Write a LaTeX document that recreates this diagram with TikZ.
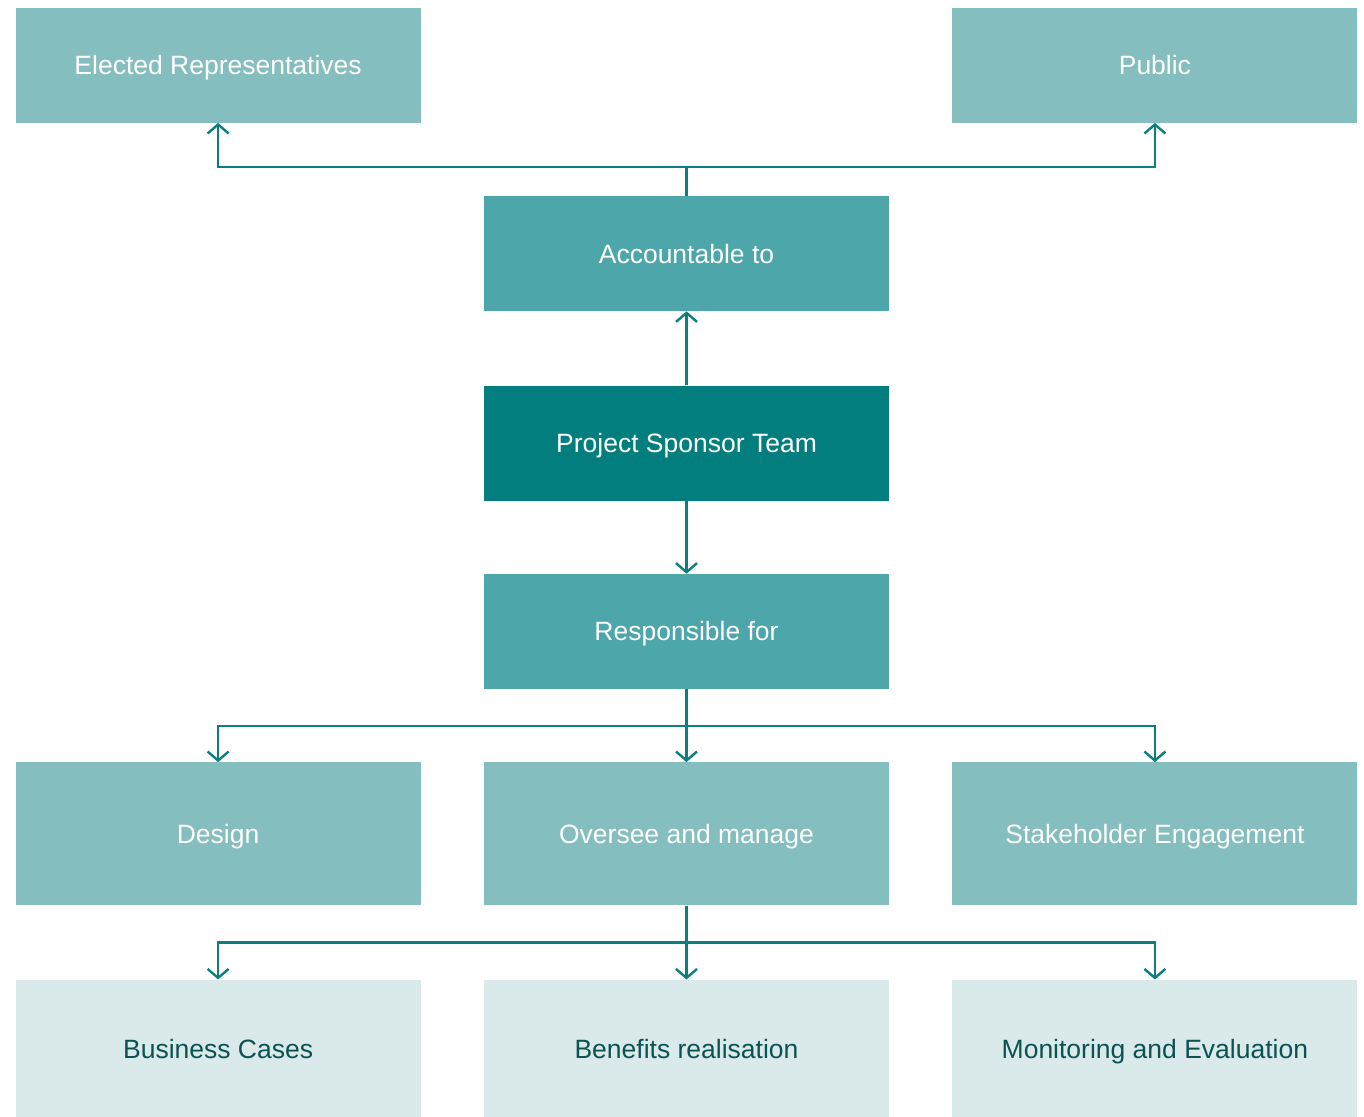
\documentclass[tikz,border=0pt]{standalone}
\usepackage{fontspec}
\setmainfont{Liberation Sans}
\usetikzlibrary{arrows.meta,positioning}
\definecolor{osdark}{HTML}{027E7E}
\definecolor{osmid}{HTML}{4CA6AA}
\definecolor{oslight}{HTML}{85BEBF}
\definecolor{ospale}{HTML}{DAE9EA}
\definecolor{osink}{HTML}{0A5351}
\definecolor{osline}{HTML}{0B7F7F}
\begin{document}
\begin{tikzpicture}[
  font=\fontsize{26.5}{30}\selectfont,
  box/.style={minimum width=405pt, minimum height=115pt, inner sep=0pt,
    text height=19pt, text depth=0pt, align=center, text=white},
  sponsor/.style={box, fill=osdark},
  role/.style={box, fill=osmid},
  party/.style={box, fill=oslight},
  task/.style={box, fill=oslight, minimum height=143pt},
  output/.style={box, fill=ospale, text=osink, minimum height=138pt},
  link/.style={-{Straight Barb[length=9pt, width=21pt]}, line width=2.4pt, draw=osline}
]
\useasboundingbox (0pt,0pt) rectangle (1364pt,-1116pt);
\node[sponsor] (team) at (686.5pt,-443pt) {Project Sponsor Team};
\node[role, above=74pt of team] (acc) {Accountable to};
\node[party, above left=73pt and 63pt of acc] (elected) {Elected Representatives};
\node[party, above right=73pt and 63pt of acc] (public) {Public};
\node[role, below=73pt of team] (resp) {Responsible for};
\node[task, below=73pt of resp] (oversee) {Oversee and manage};
\node[task, left=63pt of oversee] (design) {Design};
\node[task, right=63pt of oversee] (stake) {Stakeholder Engagement};
\node[output, below=74pt of design] (cases) {Business Cases};
\node[output, below=74pt of oversee] (benefits) {Benefits realisation};
\node[output, below=74pt of stake] (monitor) {Monitoring and Evaluation};
% accountability
\draw[link] (team) -- (acc);
\draw[link] (acc.north) -- ++(0,29pt) -| (elected.south);
\draw[link] (acc.north) -- ++(0,29pt) -| (public.south);
% responsibilities
\draw[link] (team) -- (resp);
\draw[link] (resp.south) -- ++(0,-37pt) -| (design.north);
\draw[link] (resp) -- (oversee);
\draw[link] (resp.south) -- ++(0,-37pt) -| (stake.north);
\draw[link] (oversee.south) -- ++(0,-37pt) -| (cases.north);
\draw[link] (oversee) -- (benefits);
\draw[link] (oversee.south) -- ++(0,-37pt) -| (monitor.north);
\end{tikzpicture}
\end{document}
